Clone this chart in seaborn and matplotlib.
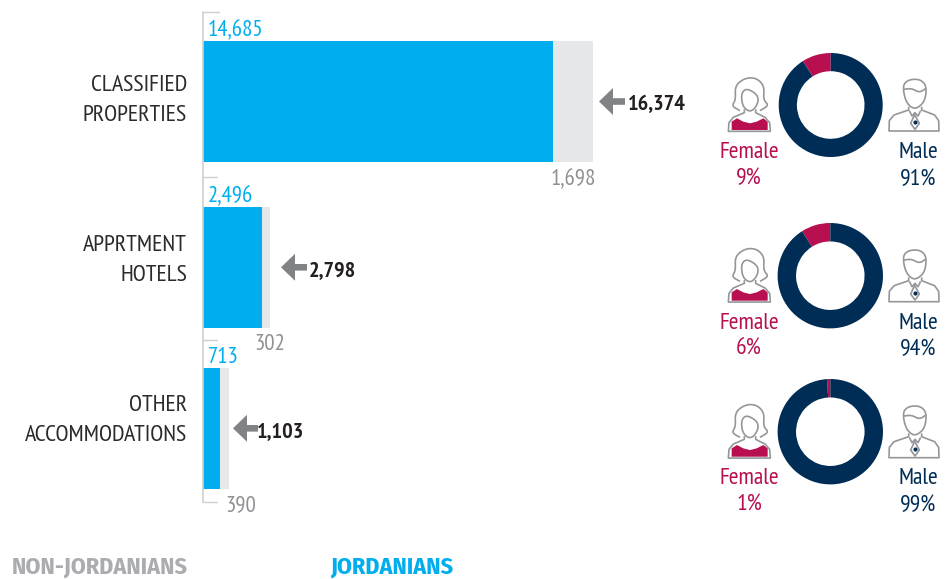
import matplotlib
matplotlib.use("Agg")
import matplotlib.pyplot as plt
import seaborn as sns
import numpy as np
from matplotlib.patches import Polygon
from matplotlib import font_manager as fm

W, H = 947, 579

# ---- data ----
categories = [["CLASSIFIED", "PROPERTIES"], ["APPRTMENT", "HOTELS"], ["OTHER", "ACCOMMODATIONS"]]
jordanians = [14685, 2496, 713]
non_jordanians = [1698, 302, 390]
totals = [16374, 2798, 1103]
female_share = [9, 9, 1]
male_share = [91, 91, 99]
female_labels = ["9%", "6%", "1%"]
male_labels = ["91%", "94%", "99%"]

# ---- styles ----
BLUE, GREY_BAR, NAVY, MAGENTA = "#00AEEF", "#E6E7E8", "#002D56", "#B70F50"
ARROW, DARK, GREY_TXT, ICON = "#808285", "#231F20", "#8F9194", "#94969A"

sns.set_theme(style="white")
names = {f.name for f in fm.fontManager.ttflist}
narrow = next((n for n in ["PT Sans Narrow", "Fira Sans Condensed", "Archivo Narrow",
                           "Liberation Sans Narrow", "Open Sans"] if n in names), "DejaVu Sans")
heading = next((n for n in ["Fira Sans Condensed", narrow] if n in names), narrow)
plt.rcParams["font.family"] = [narrow, "DejaVu Sans"]

fig = plt.figure(figsize=(W / 100, H / 100), dpi=100, facecolor="white")


def px_axes(x0, y0, x1, y1, **kw):
    return fig.add_axes([x0 / W, 1 - y1 / H, (x1 - x0) / W, (y1 - y0) / H], **kw)


# ---- stacked bars, one axes per row, sharing one value scale ----
bar_rows = [(41, 162), (207, 328), (368, 489)]
plot_left, plot_right = 203, 603
x_max = (plot_right - plot_left) * 14685 / 350
for i, (y0, y1) in enumerate(bar_rows):
    ax = px_axes(plot_left, y0, plot_right, y1)
    label = " ".join(categories[i])
    sns.barplot(x=[jordanians[i] + non_jordanians[i]], y=[label], color=GREY_BAR, width=1,
                saturation=1, linewidth=0, ax=ax, orient="y")
    sns.barplot(x=[jordanians[i]], y=[label], color=BLUE, width=1,
                saturation=1, linewidth=0, ax=ax, orient="y")
    ax.set_xlim(0, x_max)
    ax.set_ylim(0.5, -0.5)
    ax.axis("off")

# ---- donuts ----
donuts = [(830.7, 105, 52), (830.3, 275.7, 52.7), (830.3, 431.7, 52.7)]
for i, (cx, cy, r) in enumerate(donuts):
    ax = px_axes(cx - r, cy - r, cx + r, cy + r)
    ax.pie([female_share[i], male_share[i]], colors=[MAGENTA, NAVY], startangle=90,
           radius=1, wedgeprops=dict(width=0.35, linewidth=0))
    ax.set_xlim(-1, 1)
    ax.set_ylim(-1, 1)
    ax.set_aspect("equal")

# ---- overlay in pixel coordinates ----
ov = fig.add_axes([0, 0, 1, 1], zorder=5)
ov.set_xlim(0, W)
ov.set_ylim(H, 0)
ov.axis("off")
ov.patch.set_alpha(0)

# axis bracket
ov.plot([202.5, 202.5], [12, 502], color="#CFCFD1", lw=1.2, zorder=1)
for y, x in [(12, 219), (176.5, 217), (340, 217), (502, 217)]:
    ov.plot([202.5, x], [y, y], color="#CFCFD1", lw=1.0, zorder=1)


def txt(x, y, s, color, size=17, ha="left", weight="normal", family=None):
    ov.text(x, y + 2.5, s, color=color, fontsize=size, ha=ha, va="center", fontweight=weight,
            family=family if family else [narrow, "DejaVu Sans"])


cat_y = [(83, 113), (243, 273), (403, 433)]
for lines, ys in zip(categories, cat_y):
    for s, y in zip(lines, ys):
        txt(187, y, s, "#2B2B2B", size=17.2, ha="right")

for v, y in zip(jordanians, [28, 194, 355]):
    txt(208, y, f"{v:,}", BLUE, size=16.5)
for v, x, y in zip(non_jordanians, [596, 285, 256], [177, 342, 503]):
    txt(x, y, f"{v:,}", GREY_TXT, size=16.5, ha="right")

arrows = [(599, 613, 625, 101.5), (281, 295, 307, 267.3), (233, 247, 258, 428.3)]
for v, (tip, base, tail, y), lx in zip(totals, arrows, [628, 309, 257]):
    ov.add_patch(Polygon([(tip, y), (base, y - 13.5), (base, y - 3.3), (tail, y - 3.3),
                          (tail, y + 3.3), (base, y + 3.3), (base, y + 13.5)],
                         closed=True, fc=ARROW, ec="none", zorder=2))
    txt(lx, y + 0.5, f"{v:,}", DARK, size=16, weight="bold")


def smooth(points, closed=False, n=3):
    p = np.asarray(points, float)
    for _ in range(n):
        if closed:
            q = np.roll(p, -1, axis=0)
            p = np.column_stack([0.75 * p + 0.25 * q, 0.25 * p + 0.75 * q]).reshape(-1, 2)
        else:
            a, b = p[:-1], p[1:]
            mid = np.column_stack([0.75 * a + 0.25 * b, 0.25 * a + 0.75 * b]).reshape(-1, 2)
            p = np.vstack([p[0], mid, p[-1]])
    return p


def stroke(cx, cy, pts, closed=False, rounded=True, fc="none", ec=ICON, lw=1.2, z=3):
    pts = np.asarray(pts, float) / 3 - 35
    if rounded:
        pts = smooth(pts, closed=closed)
    pts = pts + (cx, cy)
    ov.add_patch(Polygon(pts, closed=closed, fc=fc, ec=ec, lw=lw, zorder=z, joinstyle="round"))


def female_icon(cx, cy):
    stroke(cx, cy, [(50, 180), (50, 155), (66, 145), (85, 155), (105, 160), (125, 155),
                    (145, 145), (158, 155), (158, 180)], closed=True, rounded=False,
           fc=MAGENTA, ec="none", lw=0)
    stroke(cx, cy, [(75, 122), (50, 108), (62, 90), (60, 50), (80, 30), (105, 22), (130, 28),
                    (148, 50), (145, 90), (162, 106), (135, 122)])
    stroke(cx, cy, [(80, 68), (95, 55), (125, 72), (131, 92), (120, 115), (105, 125),
                    (88, 115), (80, 95)], closed=True)
    stroke(cx, cy, [(88, 118), (88, 128), (55, 142), (42, 158), (40, 184), (166, 184),
                    (164, 158), (150, 142), (122, 128), (122, 118)], rounded=False)


def male_icon(cx, cy):
    stroke(cx, cy, [(70, 60), (72, 40), (90, 28), (120, 28), (138, 45), (138, 75), (130, 100),
                    (105, 118), (85, 105), (75, 85)], closed=True)
    stroke(cx, cy, [(72, 58), (95, 55), (118, 68), (138, 55)])
    stroke(cx, cy, [(86, 110), (86, 120), (42, 135), (28, 152), (27, 183), (177, 183),
                    (176, 152), (164, 135), (125, 120), (125, 110)], rounded=False)
    stroke(cx, cy, [(88, 122), (96, 138), (105, 128), (114, 138), (122, 122)], rounded=False)
    stroke(cx, cy, [(104, 134), (92, 160), (105, 178), (118, 160)], closed=True, rounded=False)
    ov.scatter([cx + 105 / 3 - 35], [cy + 157 / 3 - 35], s=9, color=NAVY, zorder=4, linewidths=0)


female_y = [(150, 176), (321, 347), (476, 503)]
male_y = [(150, 177), (321, 347), (476, 503)]
for i, (_, cy, _r) in enumerate(donuts):
    female_icon(750, cy)
    male_icon(915, cy)
    txt(749, female_y[i][0], "Female", MAGENTA, ha="center")
    txt(749, female_y[i][1], female_labels[i], MAGENTA, ha="center")
    txt(918, male_y[i][0], "Male", NAVY, ha="center")
    txt(918, male_y[i][1], male_labels[i], NAVY, ha="center")

# legend text
txt(12, 564.5, "NON-JORDANIANS", "#ABACB0", size=17.2, weight="bold", family=[heading, "DejaVu Sans"])
txt(330, 564.5, "JORDANIANS", BLUE, size=17.2, weight="bold", family=[heading, "DejaVu Sans"])

fig.savefig("out.png", dpi=100, facecolor="white")
